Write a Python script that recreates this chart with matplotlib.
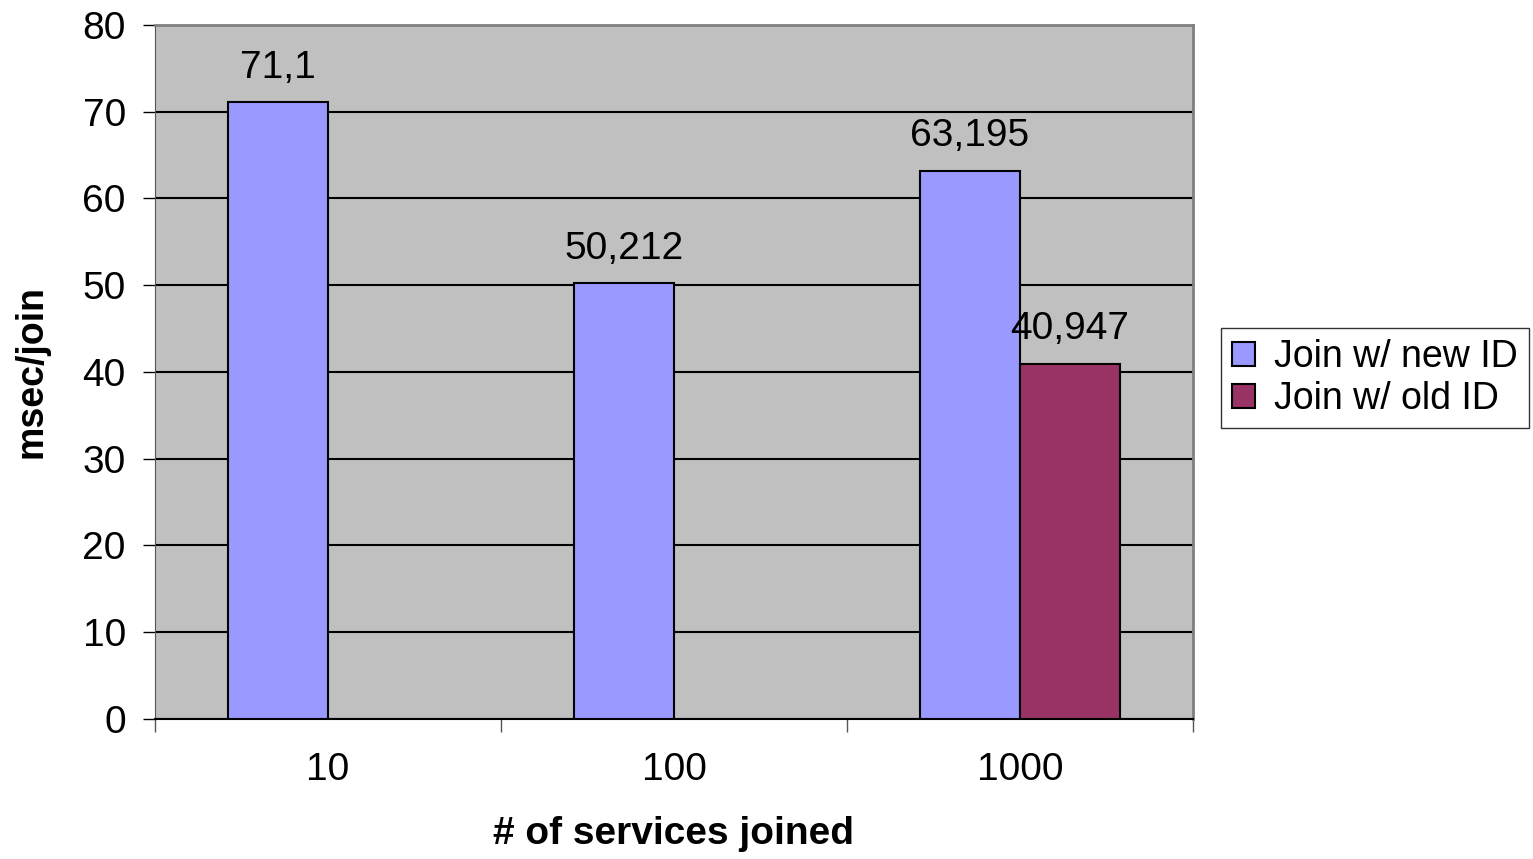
import matplotlib.pyplot as plt
import numpy as np

plt.rcParams['font.family'] = ['Liberation Sans', 'DejaVu Sans']

categories = ['10', '100', '1000']
new_id = [71.1, 50.212, 63.195]
old_id = [np.nan, np.nan, 40.947]
series_names = ['Join w/ new ID', 'Join w/ old ID']

fig = plt.figure(figsize=(15.33, 8.59), dpi=100)
ax = fig.add_axes([0.1011, 0.1630, 0.6771, 0.8079])
ax.set_facecolor('#c0c0c0')

x = np.arange(len(categories))
w = 0.289
b1 = ax.bar(x - w / 2, new_id, w, color='#9999ff', edgecolor='black', linewidth=1.5,
            label=series_names[0], zorder=3)
b2 = ax.bar(x + w / 2, old_id, w, color='#993366', edgecolor='black', linewidth=1.5,
            label=series_names[1], zorder=3)

# value labels above each bar, comma as decimal separator
for bars, vals in ((b1, new_id), (b2, old_id)):
    for rect, v in zip(bars, vals):
        if np.isnan(v):
            continue
        txt = ('%g' % v).replace('.', ',')
        ax.annotate(txt, (rect.get_x() + rect.get_width() / 2, v),
                    xytext=(0, 12), textcoords='offset points',
                    ha='center', va='bottom', fontsize=28, zorder=4)

ax.set_xlim(-0.5, len(categories) - 0.5)
ax.set_ylim(0, 80)
ax.set_yticks(range(0, 81, 10))
ax.yaxis.grid(True, color='black', linewidth=1.5, zorder=1)

ax.set_xticks(np.arange(-0.5, len(categories), 1.0))
ax.set_xticklabels([])
ax.set_xticks(x, minor=True)
ax.set_xticklabels(categories, minor=True)
ax.tick_params(axis='x', which='major', direction='out', length=9, width=1, color='#555555')
ax.tick_params(axis='x', which='minor', length=0, pad=24, labelsize=28)
ax.tick_params(axis='y', direction='out', length=9, width=1, pad=12, labelsize=28)

for side in ('top', 'right'):
    ax.spines[side].set_color('#808080')
    ax.spines[side].set_linewidth(2)
ax.spines['left'].set_color('#555555')
ax.spines['bottom'].set_color('black')
ax.spines['bottom'].set_linewidth(1.5)

ax.set_xlabel('# of services joined', fontsize=28, fontweight='bold', labelpad=20)
ax.set_ylabel('msec/join', fontsize=27, fontweight='bold', labelpad=24)

leg = fig.legend(handles=[b1, b2], loc='upper left', bbox_to_anchor=(0.7965, 0.618),
                 fontsize=27, frameon=True, fancybox=False, edgecolor='black',
                 handlelength=0.6, handleheight=0.6, handletextpad=0.5,
                 borderpad=0.3, labelspacing=0.15, borderaxespad=0)
leg.get_frame().set_linewidth(1)

fig.savefig('out.png', dpi=100)
